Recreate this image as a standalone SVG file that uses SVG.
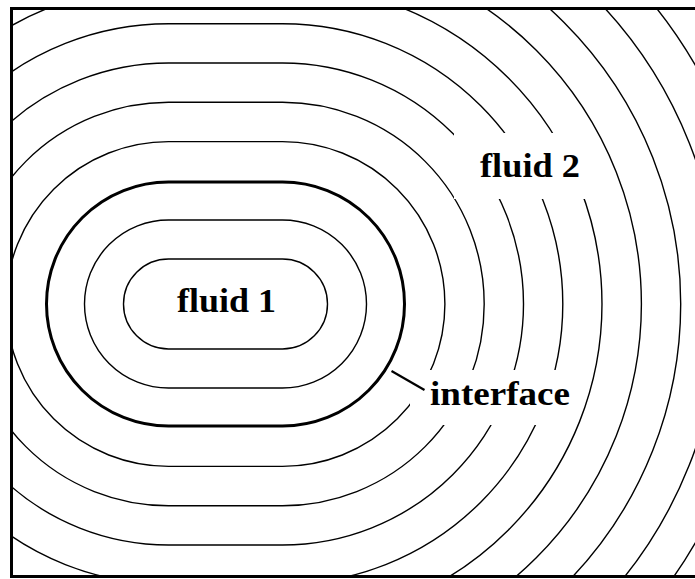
<svg xmlns="http://www.w3.org/2000/svg" width="695" height="579" viewBox="0 0 695 579">
<style>
.c{fill:none;stroke:#000;stroke-width:1.4}
.i{fill:none;stroke:#000;stroke-width:3}
.m{fill:#fff;stroke:none}
.t{font-family:"Liberation Serif","Times New Roman",serif;font-weight:bold;font-size:34px;fill:#000}
</style>
<defs>
<clipPath id="clip"><rect x="11" y="8" width="684" height="569"/></clipPath>
</defs>
<rect width="695" height="579" fill="#fff"/>
<g id="contours" clip-path="url(#clip)">
<path class="c" d="M168.5,259 H282.5 A45,45 0 0 1 282.5,349 H168.5 A45,45 0 0 1 168.5,259 Z"/>
<path class="c" d="M168.5,220 H282.5 A84,84 0 0 1 282.5,388 H168.5 A84,84 0 0 1 168.5,220 Z"/>
<path class="c" d="M168.5,141.6 H282.5 A162.4,162.4 0 0 1 282.5,466.4 H168.5 A162.4,162.4 0 0 1 168.5,141.6 Z"/>
<path class="c" d="M168.5,102.3 H282.5 A201.7,201.7 0 0 1 282.5,505.7 H168.5 A201.7,201.7 0 0 1 168.5,102.3 Z"/>
<path class="c" d="M168.5,63 H282.5 A241,241 0 0 1 282.5,545 H168.5 A241,241 0 0 1 168.5,63 Z"/>
<path class="c" d="M168.5,23.7 H282.5 A280.3,280.3 0 0 1 282.5,584.3 H168.5 A280.3,280.3 0 0 1 168.5,23.7 Z"/>
<path class="c" d="M168.5,-15.6 H282.5 A319.6,319.6 0 0 1 282.5,623.6 H168.5 A319.6,319.6 0 0 1 168.5,-15.6 Z"/>
<path class="c" d="M168.5,-54.9 H282.5 A358.9,358.9 0 0 1 282.5,662.9 H168.5 A358.9,358.9 0 0 1 168.5,-54.9 Z"/>
<path class="c" d="M168.5,-94.2 H282.5 A398.2,398.2 0 0 1 282.5,702.2 H168.5 A398.2,398.2 0 0 1 168.5,-94.2 Z"/>
<path class="c" d="M168.5,-133.5 H282.5 A437.5,437.5 0 0 1 282.5,741.5 H168.5 A437.5,437.5 0 0 1 168.5,-133.5 Z"/>
<path class="c" d="M168.5,-172.8 H282.5 A476.8,476.8 0 0 1 282.5,780.8 H168.5 A476.8,476.8 0 0 1 168.5,-172.8 Z"/>
<path class="c" d="M168.5,-212.1 H282.5 A516.1,516.1 0 0 1 282.5,820.1 H168.5 A516.1,516.1 0 0 1 168.5,-212.1 Z"/>
<rect class="m" x="454" y="133" width="141" height="66"/>
<rect class="m" x="410" y="370" width="166" height="55"/>
</g>
<g id="interface-node">
<path class="i" d="M168.5,182 H282.5 A122,122 0 0 1 282.5,426 H168.5 A122,122 0 0 1 168.5,182 Z"/>
</g>
<g id="frame">
<path d="M695,8.5 H11.5 V576.5 H695" fill="none" stroke="#000" stroke-width="3"/>
</g>
<g id="connectors">
<line x1="391.5" y1="371" x2="424.5" y2="390" stroke="#000" stroke-width="2.2"/>
</g>
<g id="fluid1">
<text class="t" x="177" y="312" textLength="99" lengthAdjust="spacingAndGlyphs">fluid 1</text>
</g>
<g id="fluid2">
<text class="t" x="480" y="177" textLength="100" lengthAdjust="spacingAndGlyphs">fluid 2</text>
</g>
<g id="interface-label">
<text class="t" x="430" y="405" textLength="140" lengthAdjust="spacingAndGlyphs">interface</text>
</g>
</svg>
